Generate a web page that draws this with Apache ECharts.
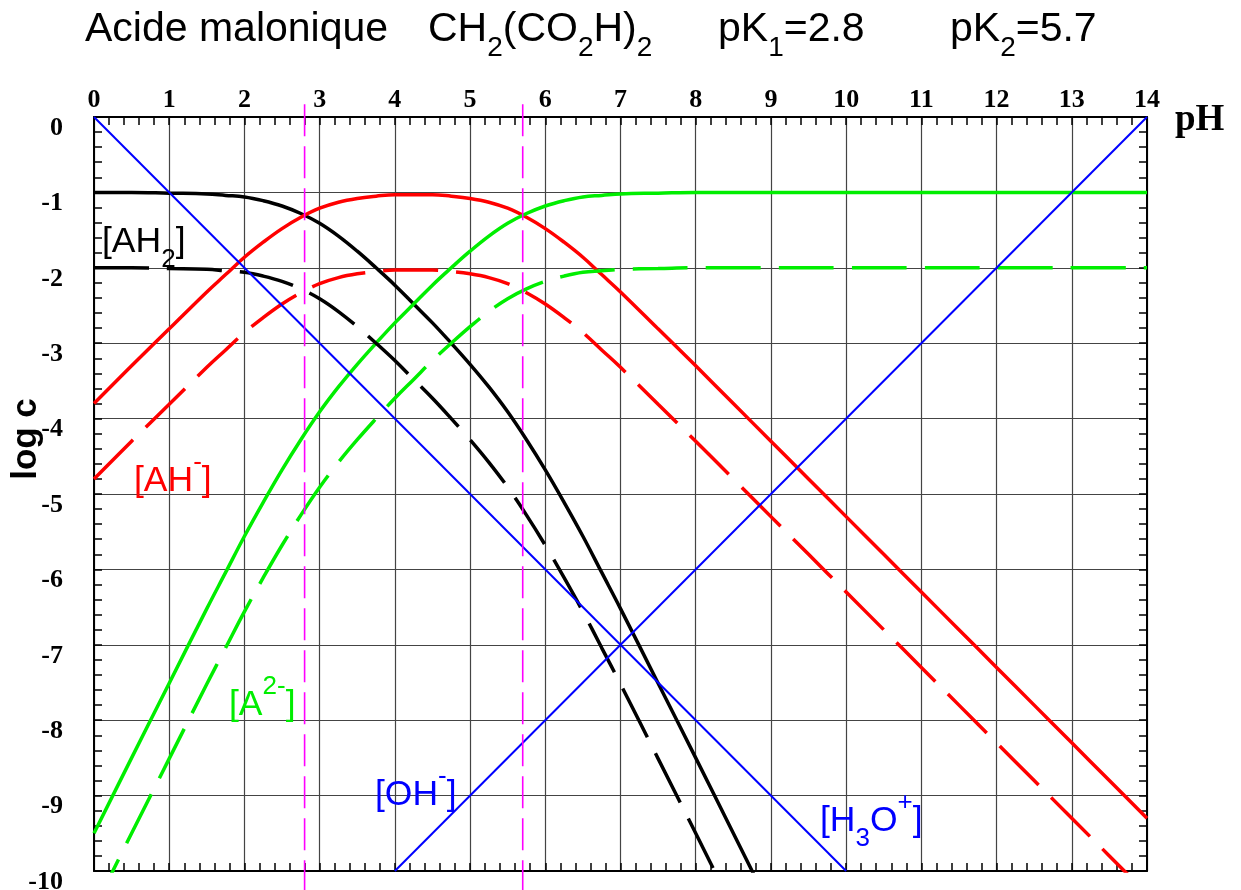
<!DOCTYPE html>
<html><head><meta charset="utf-8">
<script src="https://cdn.jsdelivr.net/npm/echarts@6/dist/echarts.min.js"></script>
<style>html,body{margin:0;padding:0;background:#fff}#c{width:1241px;height:890px}</style>
</head><body><div id="c"></div>
<script>
// ---- data ----
const pH = [0,0.5,1,1.5,1.75,2,2.25,2.5,2.75,3,3.25,3.5,3.75,4,4.25,4.5,4.75,5,5.25,5.5,5.75,6,6.25,6.5,6.75,7,7.5,8,8.5,9,9.5,10,10.5,11,11.5,12,12.5,13,13.5,14];
// C = 0.1 mol/L (solid)
const AH2_c1 = [-1.00,-1.00,-1.01,-1.02,-1.04,-1.06,-1.11,-1.18,-1.28,-1.41,-1.58,-1.78,-2.00,-2.23,-2.48,-2.73,-3.00,-3.28,-3.58,-3.91,-4.28,-4.68,-5.11,-5.56,-6.04,-6.52,-7.51,-8.50,-9.50,-10.50,-11.50,-12.50,-13.50,-14.50,-15.50,-16.50,-17.50,-18.50,-19.50,-20.50];
const AH_c1  = [-3.80,-3.30,-2.81,-2.32,-2.09,-1.86,-1.66,-1.48,-1.33,-1.21,-1.13,-1.08,-1.05,-1.03,-1.03,-1.03,-1.05,-1.08,-1.13,-1.21,-1.33,-1.48,-1.66,-1.86,-2.09,-2.32,-2.81,-3.30,-3.80,-4.30,-4.80,-5.30,-5.80,-6.30,-6.80,-7.30,-7.80,-8.30,-8.80,-9.30];
const A2_c1  = [-9.50,-8.50,-7.51,-6.52,-6.04,-5.56,-5.11,-4.68,-4.28,-3.91,-3.58,-3.28,-3.00,-2.73,-2.48,-2.23,-2.00,-1.78,-1.58,-1.41,-1.28,-1.18,-1.11,-1.06,-1.04,-1.02,-1.01,-1.00,-1.00,-1.00,-1.00,-1.00,-1.00,-1.00,-1.00,-1.00,-1.00,-1.00,-1.00,-1.00];
// C = 0.01 mol/L (dashed)
const AH2_c2 = [-2.00,-2.00,-2.01,-2.02,-2.04,-2.06,-2.11,-2.18,-2.28,-2.41,-2.58,-2.78,-3.00,-3.23,-3.48,-3.73,-4.00,-4.28,-4.58,-4.91,-5.28,-5.68,-6.11,-6.56,-7.04,-7.52,-8.51,-9.50,-10.50,-11.50,-12.50,-13.50,-14.50,-15.50,-16.50,-17.50,-18.50,-19.50,-20.50,-21.50];
const AH_c2  = [-4.80,-4.30,-3.81,-3.32,-3.09,-2.86,-2.66,-2.48,-2.33,-2.21,-2.13,-2.08,-2.05,-2.03,-2.03,-2.03,-2.05,-2.08,-2.13,-2.21,-2.33,-2.48,-2.66,-2.86,-3.09,-3.32,-3.81,-4.30,-4.80,-5.30,-5.80,-6.30,-6.80,-7.30,-7.80,-8.30,-8.80,-9.30,-9.80,-10.30];
const A2_c2  = [-10.50,-9.50,-8.51,-7.52,-7.04,-6.56,-6.11,-5.68,-5.28,-4.91,-4.58,-4.28,-4.00,-3.73,-3.48,-3.23,-3.00,-2.78,-2.58,-2.41,-2.28,-2.18,-2.11,-2.06,-2.04,-2.02,-2.01,-2.00,-2.00,-2.00,-2.00,-2.00,-2.00,-2.00,-2.00,-2.00,-2.00,-2.00,-2.00,-2.00];
// water lines
const H3O_pH = [0, 10];
const H3O_log = [0, -10];
const OH_pH = [4, 14];
const OH_log = [-10, 0];
// pK values
const pKs = [2.8, 5.7];

// ---- chart ----
const pair = (xs, ys) => xs.map((x, i) => [x, ys[i]]);
const DASH = [55, 18];
function curve(name, ys, color, dashed) {
  return {
    name, type: 'line', data: pair(pH, ys), showSymbol: false, symbol: 'none',
    smooth: 0.4, clip: true, z: 3,
    lineStyle: { color, width: 3.5, type: dashed ? DASH : 'solid' }
  };
}
function straight(xs, ys) {
  return {
    type: 'line', data: pair(xs, ys), showSymbol: false, symbol: 'none', clip: true, z: 4,
    lineStyle: { color: '#0000ff', width: 2 }
  };
}
const series = [
  curve('AH2 0.1', AH2_c1, '#000000', false),
  curve('AH 0.1', AH_c1, '#ff0000', false),
  curve('A2 0.1', A2_c1, '#00ee00', false),
  curve('AH2 0.01', AH2_c2, '#000000', true),
  curve('AH 0.01', AH_c2, '#ff0000', true),
  curve('A2 0.01', A2_c2, '#00ee00', true),
  straight(H3O_pH, H3O_log),
  straight(OH_pH, OH_log)
];
pKs.forEach(pk => series.push({
  type: 'line', data: [[pk, 0.17], [pk, -10.4]], showSymbol: false, symbol: 'none', clip: false, z: 5,
  lineStyle: { color: '#ff00ff', width: 1.6, type: [32, 10] }
}));

const tickLS = { color: '#000', width: 1.5 };
const axLine = { show: true, onZero: false, lineStyle: { color: '#000', width: 2 } };
const gridLS = { color: '#444', width: 1.2 };
const labelFont = { fontFamily: 'Liberation Serif', fontWeight: 'bold', fontSize: 26, color: '#000' };

const SANS = 'Liberation Sans';
function richSet(main, sub, color, M, SS, SP) {
  return {
    m: { fontSize: main, lineHeight: M, fontFamily: SANS, fill: color },
    s: { fontSize: sub, lineHeight: SS, verticalAlign: 'bottom', fontFamily: SANS, fill: color },
    p: { fontSize: sub, lineHeight: SP, verticalAlign: 'top', fontFamily: SANS, fill: color }
  };
}
function txt(x, y, text, rich) {
  return { type: 'text', x, y, z: 10, style: { text, rich, verticalAlign: 'middle', align: 'left' } };
}
const titleRich = richSet(41, 28, '#000', 64, 32, 32);
const lab = c => richSet(35.5, 26, c, 62, 38, 26);

const option = {
  animation: false,
  backgroundColor: '#fff',
  grid: { left: 94, right: 94, top: 117, bottom: 19, containLabel: false, outerBoundsMode: 'none' },
  xAxis: [
    { type: 'value', position: 'top', min: 0, max: 14, interval: 1,
      axisLine: axLine,
      axisTick: { show: true, inside: true, length: 8, lineStyle: tickLS },
      minorTick: { show: true, splitNumber: 5, length: 8, lineStyle: tickLS },
      splitLine: { show: true, lineStyle: gridLS },
      axisLabel: Object.assign({ margin: 4 }, labelFont) },
    { type: 'value', position: 'bottom', min: 0, max: 14, interval: 1,
      axisLine: axLine,
      axisTick: { show: true, inside: true, length: 8, lineStyle: tickLS },
      minorTick: { show: true, splitNumber: 5, length: 8, lineStyle: tickLS },
      splitLine: { show: false }, axisLabel: { show: false } }
  ],
  yAxis: [
    { type: 'value', position: 'left', min: -10, max: 0, interval: 1,
      axisLine: axLine,
      axisTick: { show: true, inside: true, length: 8, lineStyle: tickLS },
      minorTick: { show: true, splitNumber: 5, length: 8, lineStyle: tickLS },
      splitLine: { show: true, lineStyle: gridLS },
      axisLabel: Object.assign({ margin: 31, verticalAlign: 'top', lineHeight: 22 }, labelFont) },
    { type: 'value', position: 'right', min: -10, max: 0, interval: 1,
      axisLine: axLine,
      axisTick: { show: true, inside: true, length: 8, lineStyle: tickLS },
      minorTick: { show: true, splitNumber: 5, length: 8, lineStyle: tickLS },
      splitLine: { show: false }, axisLabel: { show: false } }
  ],
  series,
  graphic: [
    txt(85, 30, '{m|Acide malonique}', titleRich),
    txt(428, 30, '{m|CH}{s|2}{m|(CO}{s|2}{m|H)}{s|2}', titleRich),
    txt(718, 30, '{m|pK}{s|1}{m|=2.8}', titleRich),
    txt(950, 30, '{m|pK}{s|2}{m|=5.7}', titleRich),
    txt(102, 242, '{m|[AH}{s|2}{m|]}', lab('#000000')),
    txt(134, 481, '{m|[AH}{p|-}{m|]}', lab('#ff0000')),
    txt(229, 705, '{m|[A}{p|2-}{m|]}', lab('#00ee00')),
    txt(375, 795, '{m|[OH}{p|-}{m|]}', lab('#0000ff')),
    txt(820, 821, '{m|[H}{s|3}{m|O}{p|+}{m|]}', lab('#0000ff')),
    { type: 'text', x: 1175, y: 120, z: 10,
      style: { text: 'pH', fontFamily: 'Liberation Serif', fontWeight: 'bold', fontSize: 37, fill: '#000', verticalAlign: 'middle', align: 'left' } },
    { type: 'text', x: 26, y: 439, rotation: Math.PI / 2, z: 10,
      style: { text: 'log c', fontFamily: SANS, fontWeight: 'bold', fontSize: 35, fill: '#000', verticalAlign: 'middle', align: 'center' } }
  ]
};
const chart = echarts.init(document.getElementById('c'), null, { renderer: 'canvas' });
chart.setOption(option);
</script>
</body></html>
